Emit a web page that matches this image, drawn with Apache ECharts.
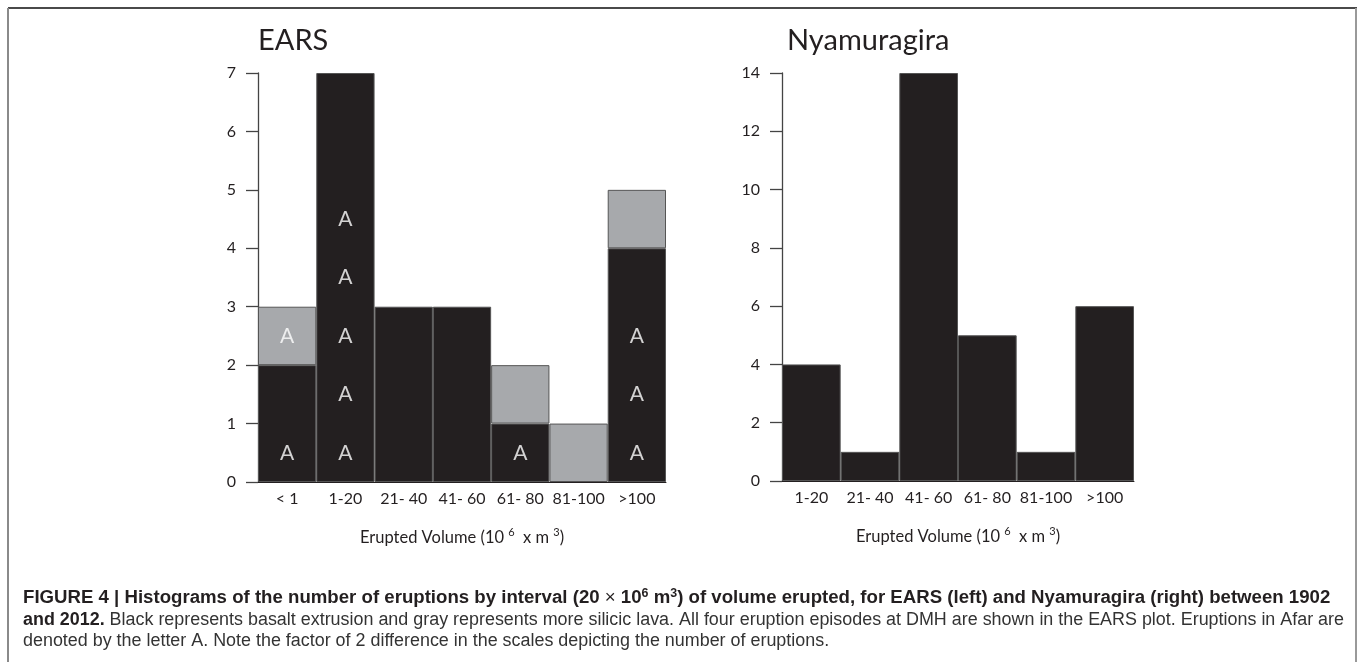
<!DOCTYPE html>
<html>
<head>
<meta charset="utf-8">
<script src="https://cdn.jsdelivr.net/npm/echarts@6/dist/echarts.min.js"></script>
<style>
  html, body { margin: 0; padding: 0; background: #fff; }
  #main { width: 1358px; height: 662px; }
</style>
</head>
<body>
<div id="main"></div>
<script>
// EARS histogram
const earsCats = ['< 1', '1-20', '21- 40', '41- 60', '61- 80', '81-100', '>100'];
const earsBasalt = [2, 7, 3, 3, 1, null, 4];
const earsSilicic = [1, null, null, null, 1, 1, 1];
// Afar eruptions, marked by letter A  [category, height of the cell centre]
const afarMarks = [
  ['< 1', 0.5], ['< 1', 2.5],
  ['1-20', 0.5], ['1-20', 1.5], ['1-20', 2.5], ['1-20', 3.5], ['1-20', 4.5],
  ['61- 80', 0.5],
  ['>100', 0.5], ['>100', 1.5], ['>100', 2.5]
];

// Nyamuragira histogram
const nyaCats = ['1-20', '21- 40', '41- 60', '61- 80', '81-100', '>100'];
const nyaCounts = [4, 1, 14, 5, 1, 6];

const ink = '#231f20';
const font = 'Lato';

const chart = echarts.init(document.getElementById('main'));

const xAxisBase = {
  type: 'category',
  axisLine: { lineStyle: { color: ink, width: 1 } },
  axisTick: { length: 12, lineStyle: { color: '#444', width: 1.3 } },
  axisLabel: { interval: 0, margin: 9, fontSize: 16, color: ink, fontFamily: font },
  name: 'Erupted Volume (10 {sup|6}  x m {sup|3})',
  nameLocation: 'middle',
  nameGap: 45,
  nameTextStyle: {
    fontSize: 16.5, color: ink, fontFamily: font,
    rich: { sup: { fontSize: 11, color: ink, fontFamily: font, padding: [0, 0, 10, 0] } }
  }
};
const yAxisBase = {
  type: 'value',
  min: 0,
  axisLine: { show: true, lineStyle: { color: '#444', width: 1.3 } },
  axisTick: { show: true, length: 12, lineStyle: { color: '#444', width: 1.3 } },
  axisLabel: { margin: 22, fontSize: 16, color: ink, fontFamily: font },
  splitLine: { show: false }
};

const option = {
  animation: false,
  title: [
    { text: 'EARS', left: 253, top: 21, textStyle: { fontSize: 29, fontWeight: 'normal', color: ink, fontFamily: font } },
    { text: 'Nyamuragira', left: 782, top: 21, textStyle: { fontSize: 29, fontWeight: 'normal', color: ink, fontFamily: font } }
  ],
  grid: [
    { left: 258, top: 73, width: 408, height: 409 },
    { left: 782, top: 73, width: 352, height: 408 }
  ],
  xAxis: [
    Object.assign({}, xAxisBase, { gridIndex: 0, data: earsCats }),
    Object.assign({}, xAxisBase, { gridIndex: 1, data: nyaCats })
  ],
  yAxis: [
    Object.assign({}, yAxisBase, { gridIndex: 0, max: 7, interval: 1 }),
    Object.assign({}, yAxisBase, { gridIndex: 1, max: 14, interval: 2 })
  ],
  series: [
    {
      type: 'bar', xAxisIndex: 0, yAxisIndex: 0, stack: 'ears', data: earsBasalt,
      barCategoryGap: 0,
      itemStyle: { color: ink, borderColor: '#555', borderWidth: 1 }
    },
    {
      type: 'bar', xAxisIndex: 0, yAxisIndex: 0, stack: 'ears', data: earsSilicic,
      barCategoryGap: 0,
      itemStyle: { color: '#a7a9ac', borderColor: '#555', borderWidth: 1 }
    },
    {
      type: 'scatter', xAxisIndex: 0, yAxisIndex: 0, data: afarMarks,
      symbolSize: 2, itemStyle: { color: 'transparent' }, silent: true, z: 5,
      labelLayout: { hideOverlap: false },
      label: { show: true, position: 'inside', formatter: 'A', color: '#fff', fontSize: 21, fontFamily: font }
    },
    {
      type: 'bar', xAxisIndex: 1, yAxisIndex: 1, data: nyaCounts,
      barCategoryGap: 0,
      itemStyle: { color: ink, borderColor: '#555', borderWidth: 1 }
    }
  ],
  graphic: [
    // figure frame
    { type: 'line', shape: { x1: 8, y1: 8, x2: 1357, y2: 8 }, style: { stroke: '#4a4a4a', lineWidth: 2 } },
    { type: 'line', shape: { x1: 8, y1: 8, x2: 8, y2: 662 }, style: { stroke: '#8a8a8a', lineWidth: 2 } },
    { type: 'line', shape: { x1: 1356, y1: 8, x2: 1356, y2: 662 }, style: { stroke: '#999', lineWidth: 2 } },
    // caption
    {
      type: 'text', x: 23, y: 598, scaleX: 1.035,
      style: {
        text: '{b|FIGURE 4 | Histograms of the number of eruptions by interval (20 }{r|×}{b| 10}{s|6}{b| m}{s|3}{b|) of volume erupted, for EARS (left) and Nyamuragira (right) between 1902}',
        verticalAlign: 'middle',
        rich: {
          b: { fontSize: 18, fontWeight: 'bold', fontFamily: 'Liberation Sans', fill: ink },
          r: { fontSize: 18, fontFamily: 'Liberation Sans', fill: ink },
          s: { fontSize: 12, fontWeight: 'bold', fontFamily: 'Liberation Sans', fill: ink, padding: [0, 0, 9, 0] }
        }
      }
    },
    {
      type: 'text', x: 23, y: 620, scaleX: 0.995,
      style: {
        text: '{b|and 2012.}{r| Black represents basalt extrusion and gray represents more silicic lava. All four eruption episodes at DMH are shown in the EARS plot. Eruptions in Afar are}',
        verticalAlign: 'middle',
        rich: {
          b: { fontSize: 18, fontWeight: 'bold', fontFamily: 'Liberation Sans', fill: ink },
          r: { fontSize: 18, fontFamily: 'Liberation Sans', fill: '#333' }
        }
      }
    },
    {
      type: 'text', x: 23, y: 641, scaleX: 0.995,
      style: {
        text: 'denoted by the letter A. Note the factor of 2 difference in the scales depicting the number of eruptions.',
        verticalAlign: 'middle',
        fontSize: 18, fontFamily: 'Liberation Sans', fill: '#333'
      }
    }
  ]
};

chart.setOption(option);
</script>
</body>
</html>
